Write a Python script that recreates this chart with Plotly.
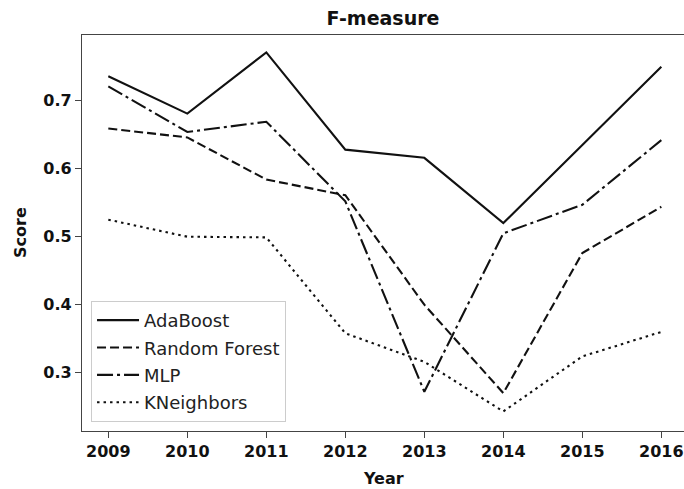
import plotly.graph_objects as go

# F-measure scores per classifier and year
years = [2009, 2010, 2011, 2012, 2013, 2014, 2015, 2016]
adaboost = [0.736, 0.681, 0.771, 0.628, 0.616, 0.520, 0.635, 0.750]
random_forest = [0.659, 0.646, 0.584, 0.561, 0.400, 0.270, 0.476, 0.544]
mlp = [0.721, 0.654, 0.669, 0.552, 0.272, 0.505, 0.547, 0.642]
kneighbors = [0.525, 0.500, 0.499, 0.358, 0.316, 0.243, 0.324, 0.360]

y_ticks = [0.3, 0.4, 0.5, 0.6, 0.7]
y_tick_text = ["0.3", "0.4", "0.5", "0.6", "0.7"]

series = [
    ("AdaBoost", adaboost, "solid"),
    ("Random Forest", random_forest, "9px,4px"),
    ("MLP", mlp, "16px,4px,3px,4px"),
    ("KNeighbors", kneighbors, "2.5px,4px"),
]

FONT = "DejaVu Sans"
INK = "#111111"
SPINE = "#444444"

fig = go.Figure()
for i, (name, vals, dash) in enumerate(series):
    fig.add_trace(go.Scatter(
        x=years, y=vals, name=name, mode="lines",
        legendgroup=f"g{i}",
        line=dict(color=INK, width=2.1, dash=dash),
    ))

fig.update_layout(
    width=684, height=489,
    margin=dict(l=82, r=0, t=35, b=58),
    paper_bgcolor="white", plot_bgcolor="white",
    font=dict(family=FONT, size=17, color=INK),
    showlegend=True,
    legend=dict(
        x=0.015, y=0.023, xanchor="left", yanchor="bottom",
        bgcolor="white", bordercolor="#cccccc", borderwidth=1,
        font=dict(family=FONT, size=18, color="#222222"),
        tracegroupgap=1, traceorder="grouped", itemwidth=42,
    ),
    title=dict(
        text="<b>F-measure</b>", x=0.5, xref="paper",
        y=1 - 18 / 489, yref="container", yanchor="middle", xanchor="center",
        font=dict(family=FONT, size=19, color=INK),
    ),
)

fig.update_xaxes(
    range=[2008.667, 2016.287],
    tickmode="array", tickvals=years, ticktext=[f"<b>{y}</b>" for y in years],
    ticks="outside", ticklen=6, tickwidth=1.2, tickcolor=SPINE,
    showline=True, linecolor=SPINE, linewidth=1.3, mirror=True,
    showgrid=False, zeroline=False,
    tickfont=dict(family=FONT, size=16, color=INK),
)
fig.update_yaxes(
    range=[0.2143, 0.7966],
    tickmode="array", tickvals=y_ticks, ticktext=[f"<b>{t}</b>" for t in y_tick_text],
    ticks="outside", ticklen=6, tickwidth=1.2, tickcolor=SPINE,
    showline=True, linecolor=SPINE, linewidth=1.3, mirror=False,
    showgrid=False, zeroline=False,
    tickfont=dict(family=FONT, size=16, color=INK),
)

# Axis titles
fig.add_annotation(
    text="<b>Year</b>", x=0.5, y=-(478 - 431) / 396, xref="paper", yref="paper",
    xanchor="center", yanchor="middle", showarrow=False,
    font=dict(family=FONT, size=16, color=INK),
)
fig.add_annotation(
    text="<b>Score</b>", x=-(82 - 20) / 602, y=0.5, xref="paper", yref="paper",
    xanchor="center", yanchor="middle", showarrow=False, textangle=-90,
    font=dict(family=FONT, size=16, color=INK),
)

fig.write_html("out.html")
